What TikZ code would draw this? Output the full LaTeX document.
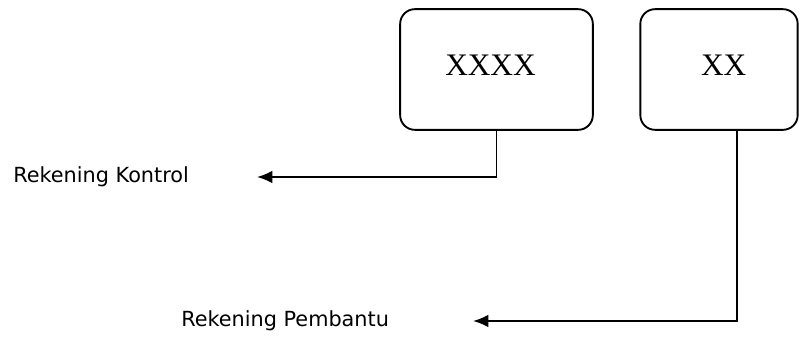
\documentclass[tikz,border=0pt]{standalone}
\usepackage{fontspec}
\setmainfont{Liberation Serif}
\newfontfamily\lblfont{DejaVu Sans}
\usetikzlibrary{arrows.meta,calc}
\begin{document}
\begin{tikzpicture}[x=0.75pt,y=-0.75pt,
  acct/.style={draw,line width=1.4pt,rounded corners=11pt,inner sep=0pt,
    font=\fontsize{23.5}{26}\selectfont},
  lbl/.style={anchor=west,inner sep=0pt,font=\lblfont\fontsize{15.6}{18}\selectfont},
  conn/.style={line width=1.4pt,-{Latex[length=11.5pt,width=9.5pt]}}]
\useasboundingbox (0,0) rectangle (799,336);
\node[acct,minimum width=144.5pt,minimum height=90.5pt] (b1) at (496.5,69.5) {\raisebox{6pt}{XXXX}\hspace*{9pt}};
\node[acct,minimum width=118pt,minimum height=90.5pt] (b2) at (719,69.5) {\hspace*{7pt}\raisebox{6pt}{XX}};
\node[lbl] (l1) at (13,177) {Rekening Kontrol};
\node[lbl] (l2) at (181,321) {Rekening Pembantu};
\coordinate (t1) at (257,177);
\coordinate (t2) at (473,321);
\coordinate (s2) at ($(b2.south)+(18,0)$);
\draw[conn] (b1.south) |- (t1);
\draw[conn] (s2) |- (t2);
\end{tikzpicture}
\end{document}
